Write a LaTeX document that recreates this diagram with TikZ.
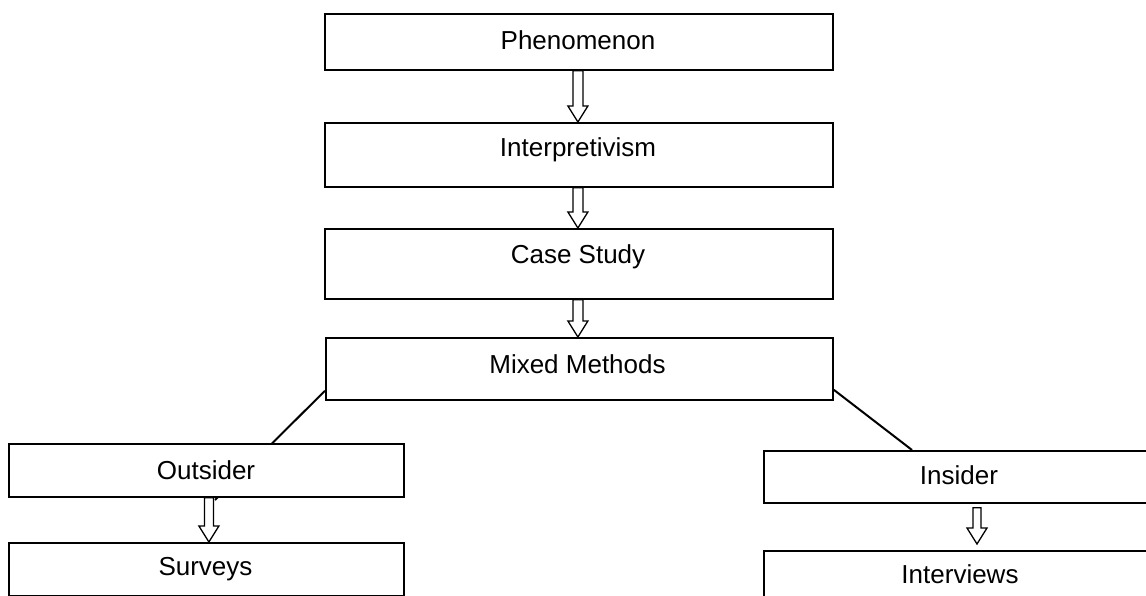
\documentclass[tikz,border=0pt]{standalone}
\usepackage{fontspec}
\setmainfont{Liberation Sans}
\usetikzlibrary{calc,backgrounds}
\begin{document}
\begin{tikzpicture}[x=1pt,y=-1pt,
  box/.style={draw=black, line width=1.8pt, fill=white, rectangle, inner sep=0pt, anchor=north west},
  txt/.style={anchor=base, inner sep=0pt, font=\fontsize{26}{30}\selectfont},
  conn/.style={draw=black, line width=2pt},
  barrow/.style={draw=black, line width=1.3pt, fill=white, line join=miter}]
\useasboundingbox (0,0) rectangle (1146,596);
\clip (0,0) rectangle (1146,596);
% boxes
\node[box, minimum width=508pt, minimum height=56pt] (ph) at (324,13) {};
\node[box, minimum width=508pt, minimum height=64pt] (ip) at (324,122) {};
\node[box, minimum width=508pt, minimum height=70pt] (cs) at (324,228) {};
\node[box, minimum width=507pt, minimum height=62pt] (mm) at (325,337) {};
\node[box, minimum width=395pt, minimum height=53pt] (os) at (8,443) {};
\node[box, minimum width=395pt, minimum height=53pt] (sv) at (8,542) {};
\node[box, minimum width=395pt, minimum height=52pt] (ins) at (763,450) {};
\node[box, minimum width=395pt, minimum height=60pt] (iv) at (763,550) {};
% texts
\node[txt] (tph) at (578,50) {Phenomenon};
\node[txt] (tip) at (578,157) {Interpretivism};
\node[txt] (tcs) at (578,264) {Case Study};
\node[txt] (tmm) at (577.5,373) {Mixed Methods};
\node[txt] (tos) at (206,479) {Outsider};
\node[txt] (tsv) at (205.5,575) {Surveys};
\node[txt] (tin) at (959,484) {Insider};
\node[txt] (tiv) at (960,583) {Interviews};
% connectors behind boxes
\coordinate (osend) at (215,500);
\begin{pgfonlayer}{background}
\draw[conn] ($(mm.south west)+(0,-10)$) -- (osend);
\draw[conn] ($(mm.south east)+(0,-11)$) -- ($(ins.north west)+(149,0)$);
\end{pgfonlayer}
% block arrows
\newcommand\blkarrow[5]{%
  \draw[barrow] let \p1=(#1.south), \p2=(#2.north) in
    (\x1+#3-#5,\y1) -- (\x1+#3-#5,\y2+#4+16pt) -- (\x1+#3-10pt,\y2+#4+16pt) --
    (\x1+#3,\y2+#4) -- (\x1+#3+10pt,\y2+#4+16pt) -- (\x1+#3+#5,\y2+#4+16pt) --
    (\x1+#3+#5,\y1) -- cycle;}
\blkarrow{ph}{ip}{-1pt}{0pt}{5pt}
\blkarrow{ip}{cs}{-1pt}{0pt}{5pt}
\blkarrow{cs}{mm}{-1pt}{0pt}{5pt}
\blkarrow{os}{sv}{2.5pt}{0pt}{4.5pt}
\draw[barrow] let \p1=(ins.south), \p2=(iv.north) in
    (977-4,\y1-4pt) -- (977-4,\y2+22pt) -- (977-10,\y2+22pt) --
    (977,\y2+6pt) -- (977+10,\y2+22pt) -- (977+4,\y2+22pt) --
    (977+4,\y1-4pt) -- cycle;
\end{tikzpicture}
\end{document}
